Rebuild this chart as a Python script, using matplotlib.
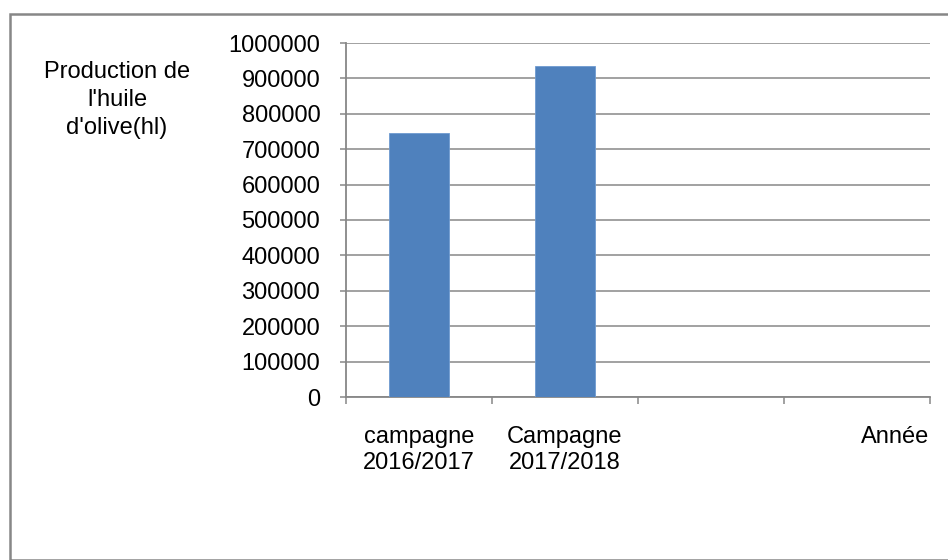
import matplotlib
matplotlib.use("Agg")
import matplotlib.pyplot as plt
from matplotlib.patches import Rectangle
from matplotlib.ticker import FuncFormatter

# production d'huile d'olive par campagne (hl)
campagnes = ["campagne\n2016/2017", "Campagne\n2017/2018", "", ""]
production = [745000, 935000, None, None]
y_ticks = [0, 100000, 200000, 300000, 400000, 500000, 600000, 700000, 800000, 900000, 1000000]

W, H = 948, 560
gris = "#878787"
bleu = "#4F81BD"
police = "Liberation Sans"

fig = plt.figure(figsize=(W / 100, H / 100), dpi=100)
fig.patch.set_facecolor("white")

# cadre du graphique
fig.add_artist(Rectangle((10 / W, 0), 1.2, 1 - 13.5 / H, transform=fig.transFigure,
                         fill=False, edgecolor=gris, linewidth=1.8, clip_on=False))

ax = fig.add_axes([346 / W, 163 / H, 584 / W, 354 / H])
ax.set_facecolor("white")

x = [i for i, v in enumerate(production) if v is not None]
vals = [v for v in production if v is not None]
ax.bar(x, vals, width=0.405, color=bleu, edgecolor="#6f9bd0", linewidth=0.6, zorder=3)

ax.set_xlim(-0.5, len(campagnes) - 0.5)
ax.set_ylim(0, 1000000)
ax.set_yticks(y_ticks)
ax.yaxis.set_major_formatter(FuncFormatter(lambda v, _: f"{v:.0f}"))
ax.yaxis.grid(True, color=gris, linewidth=1.1, zorder=0)

# graduations aux limites des catégories, étiquettes au centre
ax.set_xticks([i - 0.5 for i in range(len(campagnes) + 1)])
ax.set_xticklabels([])
ax.set_xticks(range(len(campagnes)), minor=True)
ax.set_xticklabels(campagnes, minor=True, fontfamily=police, fontsize=17, linespacing=1.25)
ax.tick_params(axis="x", which="major", direction="out", length=5, width=1.1, color=gris)
ax.tick_params(axis="x", which="minor", length=0, pad=21)
ax.tick_params(axis="y", direction="out", length=4.5, width=1.1, color=gris, pad=14,
               labelsize=17)
for lab in ax.get_yticklabels():
    lab.set_fontfamily(police)

for s in ["top", "right"]:
    ax.spines[s].set_visible(False)
for s in ["left", "bottom"]:
    ax.spines[s].set_color(gris)
    ax.spines[s].set_linewidth(1.3)

fig.text(929 / W, 1 - 437 / H, "Année", ha="right", va="center",
         fontfamily=police, fontsize=17)
fig.text(117 / W, 1 - 100 / H, "Production de\nl'huile\nd'olive(hl)", ha="center", va="center",
         fontfamily=police, fontsize=17, linespacing=1.38)

fig.savefig("out.png", dpi=100)
